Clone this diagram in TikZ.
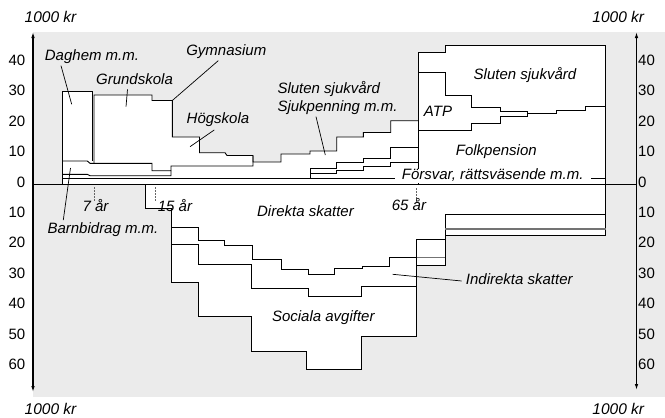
\documentclass[tikz,border=0pt]{standalone}
\usepackage{fontspec}
\setmainfont{Liberation Sans}
\usetikzlibrary{arrows.meta}
\definecolor{chartgray}{RGB}{235,235,235}

\begin{document}
\begin{tikzpicture}[x=1pt,y=-1pt,
    stair/.style={line width=0.9pt},
    softstair/.style={line width=1.1pt,black!55},
    axisline/.style={line width=1.1pt,{Latex[length=6pt,width=3.5pt]}-{Latex[length=6pt,width=3.5pt]}},
    agetick/.style={line width=0.8pt,black!60,dash pattern=on 1.5pt off 1.5pt},
    leader/.style={line width=0.7pt},
    lab/.style={font=\fontsize{15}{17}\selectfont\itshape,inner sep=0pt,text height=10.5pt,text depth=3pt},
    unit/.style={font=\fontsize{15.5}{18}\selectfont\itshape,inner sep=0pt},
    num/.style={font=\fontsize{15}{17}\selectfont,inner sep=0pt}]
    \useasboundingbox (0,0) rectangle (665,418);

    \fill[chartgray] (33,32) rectangle (665,397);
    \fill[white] (62,184.5) -- (62,91) -- (92.7,91) -- (92.7,95) -- (152,95) -- (152,100.5) -- (172.3,100.5) -- (172.3,137) -- (199.5,137) -- (199.5,152.7) -- (225,152.7) -- (227,155.5) -- (253,155.5) -- (253,162) -- (281,162) -- (281,154) -- (310,154) -- (310,151) -- (336.7,151) -- (336.7,137) -- (363.3,137) -- (363.3,132.5) -- (390.7,132.5) -- (390.7,120.7) -- (418,120.7) -- (418,52.3) -- (445.7,52.3) -- (445.7,45) -- (605.5,45) -- (605.5,184.5) -- cycle;
    \fill[white] (145,184.5) -- (145,208.3) -- (171,208.3) -- (171,282.3) -- (198.3,282.3) -- (198.3,316) -- (251,316) -- (251,351) -- (306,351) -- (306,369) -- (361.7,369) -- (361.7,336.7) -- (416.7,336.7) -- (416.7,265.7) -- (445,265.7) -- (445,235) -- (605.5,235) -- (605.5,184.5) -- cycle;

    \draw[stair] (62,184.5) -- (62,91) -- (92.7,91) -- (92.7,161);
    \draw[stair] (94,163.3) -- (94,95) -- (152,95) -- (152,100.5) -- (172.3,100.5) -- (172.3,137) -- (199.5,137) -- (199.5,152.7) -- (225,152.7) -- (227,155.5) -- (253,155.5) -- (253,162) -- (281,162) -- (281,154) -- (310,154) -- (310,151) -- (336.7,151) -- (336.7,137) -- (363.3,137) -- (363.3,132.5) -- (390.7,132.5) -- (390.7,120.7) -- (418,120.7);
    \draw[stair] (418,184.5) -- (418,52.3) -- (445.7,52.3) -- (445.7,45) -- (605.5,45) -- (605.5,235) -- (445,235) -- (445,265.7) -- (416.7,265.7) -- (416.7,336.7) -- (361.7,336.7) -- (361.7,369) -- (306,369) -- (306,351) -- (251,351) -- (251,316) -- (198.3,316) -- (198.3,282.3) -- (171,282.3) -- (171,208.3) -- (145,208.3) -- (145,184.5);

    \draw[stair] (62,161) -- (87.3,161) -- (90,163.3) -- (152,163.3) -- (152,170.7) -- (171,170.7) -- (171,166) -- (253,166) -- (253,155.5);
    \draw[stair] (62,174.3) -- (87.3,174.3) -- (90,175.7) -- (171,175.7) -- (171,170.7);
    \draw[stair] (62,178.5) -- (605.5,178.5);
    \draw[stair] (310,178.5) -- (310,168.3) -- (336.7,168.3) -- (336.7,162.5) -- (363.3,162.5) -- (363.3,158) -- (390.7,158) -- (390.7,147) -- (418,147);
    \draw[stair] (310,173.5) -- (336.7,173.5) -- (336.7,170.7) -- (363.3,170.7) -- (363.3,166) -- (390.7,166) -- (390.7,162) -- (418,162);
    \draw[stair] (418,72.7) -- (445.7,72.7) -- (445.7,95.7) -- (471.7,95.7) -- (471.7,107.7) -- (500,107.7) -- (500,111) -- (527.5,111) -- (527.5,113.8) -- (556.5,113.8) -- (556.5,110) -- (585,110) -- (585,106.5) -- (605.5,106.5);
    \draw[stair] (418,130.5) -- (471.7,130.5) -- (471.7,123.5) -- (500,123.5) -- (500,116) -- (527.5,116) -- (527.5,113.8);

    \draw[stair] (171,227.7) -- (198.3,227.7) -- (198.3,240) -- (224,240) -- (224,245.7) -- (252.7,245.7) -- (252.7,259) -- (281,259) -- (281,269.3) -- (308.3,269.3) -- (308.3,274.3) -- (334.7,274.3) -- (334.7,268.7) -- (362,268.7) -- (362,266) -- (389.3,266) -- (389.3,257.3) -- (416.7,257.3);
    \draw[softstair] (416.7,257.3) -- (445,257.3);
    \draw[stair] (171,244.3) -- (198.3,244.3) -- (198.3,264.3) -- (251.7,264.3) -- (251.7,288.3) -- (308.3,288.3) -- (308.3,296.7) -- (361.7,296.7) -- (361.7,286) -- (416.7,286);
    \draw[stair] (416.7,265.7) -- (416.7,239.3) -- (445,239.3);
    \draw[stair] (445,235) -- (445,214) -- (605.5,214);
    \draw[softstair] (445,229) -- (605.5,229);

    \draw[agetick] (94.3,187) -- (94.3,201);
    \draw[agetick] (155.7,187) -- (155.7,201);
    \draw[agetick] (416,188) -- (416,203);

    \draw[line width=1.3pt] (33,184.5) -- (636.5,184.5);
    \draw[axisline] (33,392) -- (33,32);
    \draw[axisline] (636.5,390) -- (636.5,32);

    \foreach \v/\i in {0/0,10/1,20/2,30/3,40/4} {
        \node[num,anchor=east] (lu\v) at (25.5,182-30.5*\i) {\v};
        \node[num,anchor=west] (ru\v) at (638,182-30.5*\i) {\v};
    }
    \foreach \v/\i in {10/1,20/2,30/3,40/4,50/5,60/6} {
        \node[num,anchor=east] (ld\v) at (25.5,182+30.4*\i) {\v};
        \node[num,anchor=west] (rd\v) at (638,182+30.4*\i) {\v};
    }
    \node[unit] (unittl) at (50.5,17) {1000 kr};
    \node[unit] (unittr) at (618.3,17) {1000 kr};
    \node[unit] (unitbl) at (50.5,409) {1000 kr};
    \node[unit] (unitbr) at (618.3,409) {1000 kr};

    \node[lab] (daghem) at (92,56.7) {Daghem m.m.};
    \node[lab] (grundskola) at (134.5,81) {Grundskola};
    \node[lab] (gymnasium) at (226.3,51.7) {Gymnasium};
    \node[lab] (hogskola) at (218,120) {Högskola};
    \node[lab,anchor=west] (slutenung) at (277.3,89.3) {Sluten sjukvård};
    \node[lab,anchor=west] (sjukpenning) at (277.3,107.7) {Sjukpenning m.m.};
    \node[lab] (slutenald) at (525,76) {Sluten sjukvård};
    \node[lab] (atp) at (438,112.7) {ATP};
    \node[lab] (folkpension) at (496.3,151.7) {Folkpension};
    \node[lab,fill=white,inner xsep=7pt] (forsvar) at (492.7,176) {Försvar, rättsväsende m.m.};
    \node[lab] (barnbidrag) at (103,230) {Barnbidrag m.m.};
    \node[lab] (direkta) at (305.5,212.7) {Direkta skatter};
    \node[lab] (sociala) at (323.3,317.7) {Sociala avgifter};
    \node[lab,anchor=west] (indirekta) at (465.7,281) {Indirekta skatter};
    \node[lab] (age7) at (95.5,207.5) {7 år};
    \node[lab] (age15) at (175,207.5) {15 år};
    \node[lab] (age65) at (409,207) {65 år};

    \coordinate (daghem-pt) at (71.7,104.3);
    \coordinate (grundskola-pt) at (126,106.7);
    \coordinate (gymnasium-pt) at (172.3,100.5);
    \coordinate (hogskola-pt) at (190,146.7);
    \coordinate (sjukpenning-pt) at (325.3,155);
    \coordinate (barnbidrag-pt) at (70.5,168);
    \coordinate (indirekta-pt) at (392.7,274.3);
    \draw[leader] ([xshift=-31pt,yshift=-2pt]daghem.south) -- (daghem-pt);
    \draw[leader] ([xshift=-7pt,yshift=-1.5pt]grundskola.south) -- (grundskola-pt);
    \draw[leader] ([xshift=-8pt,yshift=-2pt]gymnasium.south) -- (gymnasium-pt);
    \draw[leader] ([xshift=-3.7pt,yshift=-3pt]hogskola.south) -- (hogskola-pt);
    \draw[leader] ([xshift=38.7pt,yshift=-2pt]sjukpenning.south west) -- (sjukpenning-pt);
    \draw[leader] ([xshift=-39.7pt,yshift=3pt]barnbidrag.north) -- (barnbidrag-pt);
    \draw[leader] ([xshift=-4pt]indirekta.west) -- (indirekta-pt);
\end{tikzpicture}
\end{document}
